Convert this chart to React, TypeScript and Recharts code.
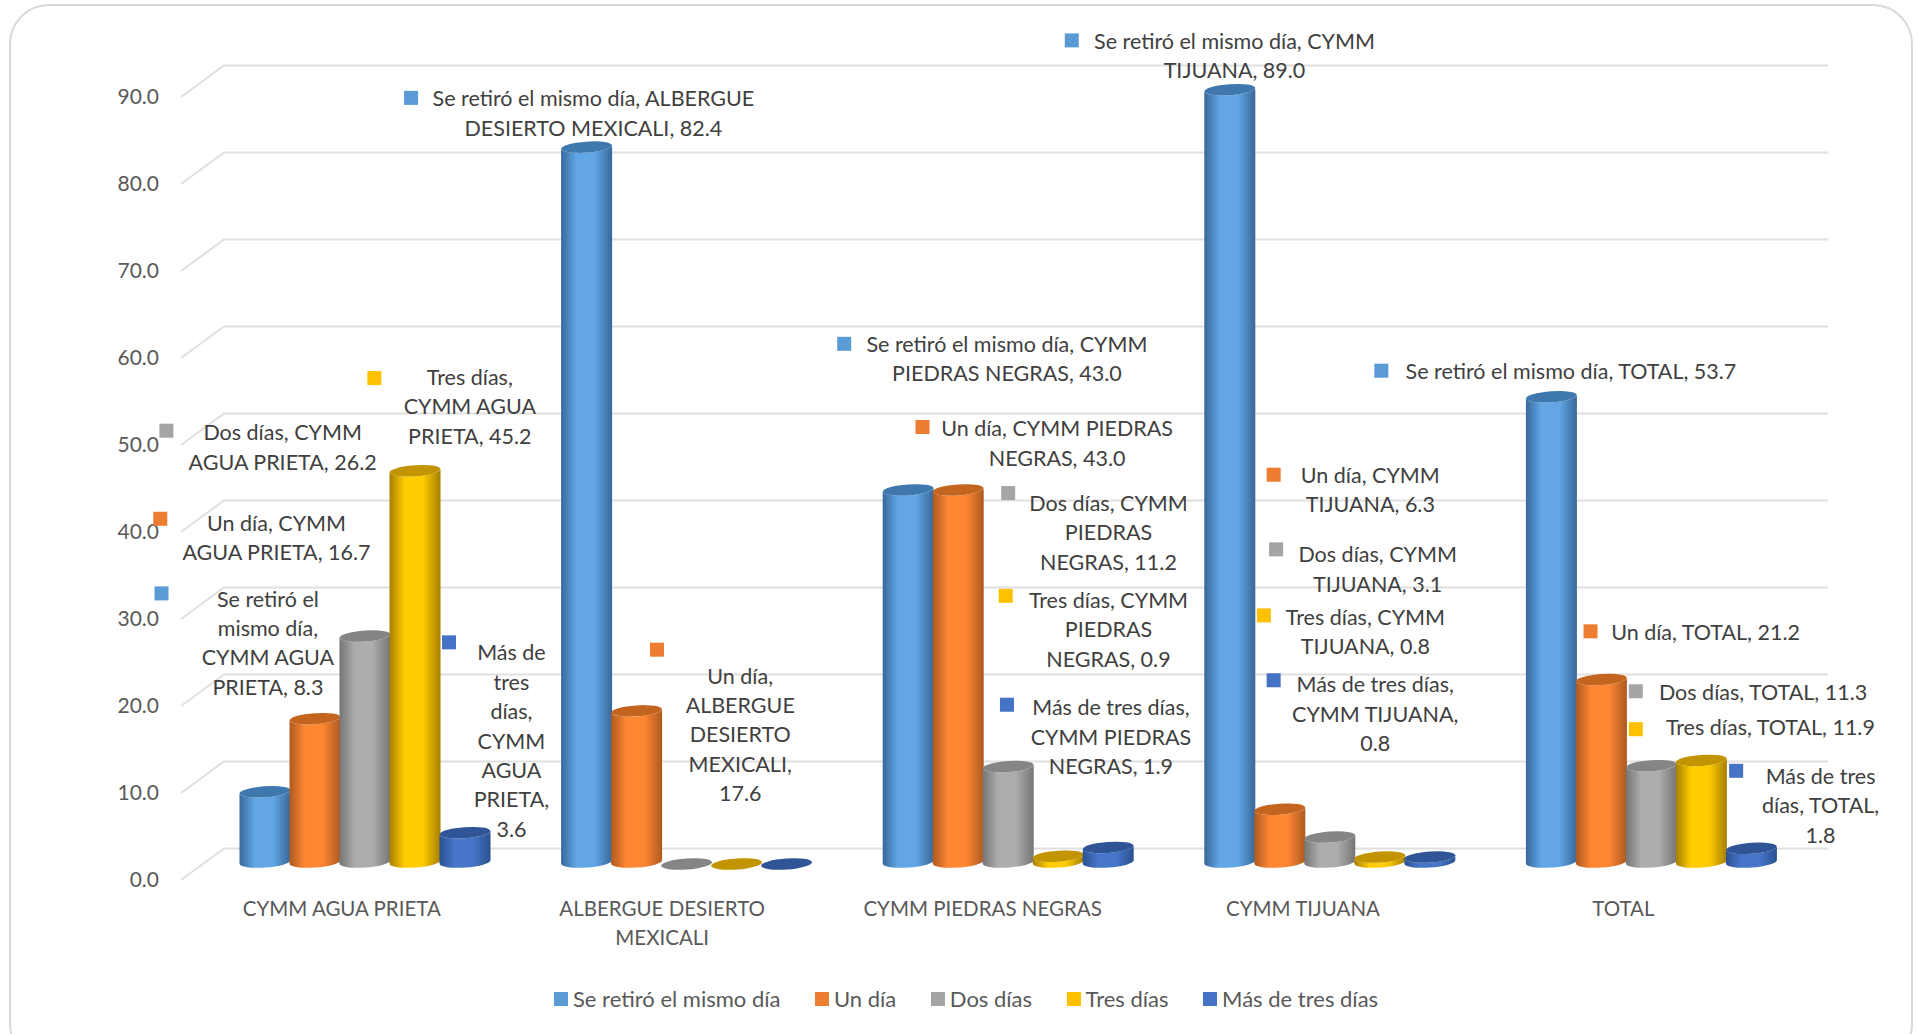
import { FC } from 'react';
import { Bar, BarChart, CartesianGrid, LabelList, Legend, XAxis, YAxis } from 'recharts';

const CATEGORIES = ['CYMM AGUA PRIETA', 'ALBERGUE DESIERTO MEXICALI', 'CYMM PIEDRAS NEGRAS', 'CYMM TIJUANA', 'TOTAL'];
const SERIES_NAMES = ['Se retiró el mismo día', 'Un día', 'Dos días', 'Tres días', 'Más de tres días'];

const MISMO_DIA = [8.3, 82.4, 43.0, 89.0, 53.7];
const UN_DIA = [16.7, 17.6, 43.0, 6.3, 21.2];
const DOS_DIAS = [26.2, 0, 11.2, 3.1, 11.3];
const TRES_DIAS = [45.2, 0, 0.9, 0.8, 11.9];
const MAS_DIAS = [3.6, 0, 1.9, 0.8, 1.8];
const SERIES_VALUES = [MISMO_DIA, UN_DIA, DOS_DIAS, TRES_DIAS, MAS_DIAS];

const Y_TICKS = [0, 10, 20, 30, 40, 50, 60, 70, 80, 90];

const data = CATEGORIES.map((name, i) => {
  const row: Record<string, string | number> = { name };
  SERIES_NAMES.forEach((s, j) => {
    row[s] = SERIES_VALUES[j][i];
  });
  return row;
});

const COLORS = ['#5b9bd5', '#ed7d31', '#a5a5a5', '#ffc000', '#4472c4'];
const SHADES = [
  { edge: '#37689a', mid: '#62a6e6', cap: '#3f78ad' },
  { edge: '#ad5a20', mid: '#ff8633', cap: '#c4651f' },
  { edge: '#757575', mid: '#adadad', cap: '#858585' },
  { edge: '#a67f00', mid: '#ffcc00', cap: '#c29400' },
  { edge: '#2b5190', mid: '#4675ca', cap: '#2f5597' },
];

const FONT = 'Lato';
const TEXT_COLOR = '#404040';
const AXIS_COLOR = '#595959';
const DEPTH_X = 43;
const DEPTH_Y = 31.5;
const K = 1.2235;

// hand-placed data labels, [markerX, markerY, textCenterX, firstLineY, words per line]
type Place = [number, number, number, number, number[]] | null;
const LABEL_PLACES: Place[][] = [
  [
    [132, 485, 219, 490, [3, 2, 2, 2]],
    [336, 80, 485, 81, [6, 3]],
    [690, 281, 823, 282, [6, 3]],
    [876, 33, 1009, 34, [6, 2]],
    [1129, 303, 1284, 304, [7]],
  ],
  [
    [131, 424, 226, 428, [3, 3]],
    [537, 531, 605, 553, [2, 1, 1, 1, 1]],
    [754, 349, 864, 351, [4, 2]],
    [1041, 388, 1120, 389, [3, 2]],
    [1300, 516, 1394, 517, [4]],
  ],
  [
    [136, 352, 231, 354, [3, 3]],
    null,
    [824, 403, 906, 412, [3, 1, 2]],
    [1043, 449, 1126, 454, [3, 2]],
    [1337, 565, 1441, 566, [4]],
  ],
  [
    [306, 309, 384, 309, [2, 2, 2]],
    null,
    [822, 487, 906, 491, [3, 1, 2]],
    [1033, 503, 1116, 505, [3, 2]],
    [1337, 596, 1447, 595, [4]],
  ],
  [
    [367, 525, 418, 534, [2, 1, 1, 1, 1, 1, 1]],
    null,
    [823, 576, 908, 579, [4, 2, 2]],
    [1041, 556, 1124, 560, [4, 2, 1]],
    [1419, 630, 1488, 635, [3, 2, 1]],
  ],
];

const Cylinder: FC<any> = ({ x, y, width, height, series }) => {
  const rx = width / 2 + 0.5;
  const ry = 5.5;
  const tilt = -4;
  const lift = rx * Math.sin((-tilt * Math.PI) / 180);
  const left = x + 22.5;
  const right = left + rx * 2;
  const top = y - 16;
  const bottom = Math.max(top, y + height - 18);
  const cx = left + rx;
  const shade = SHADES[series];
  const body = [
    `M${left},${top + lift}`,
    `L${left},${bottom + lift}`,
    `A${rx},${ry} ${tilt} 0 0 ${right},${bottom - lift}`,
    `L${right},${top - lift}`,
    `A${rx},${ry} ${tilt} 0 1 ${left},${top + lift}`,
    'Z',
  ].join(' ');
  return (
    <g>
      <path d={body} fill={`url(#cyl-${series})`} />
      <ellipse cx={cx} cy={top} rx={rx} ry={ry} fill={shade.cap} transform={`rotate(${tilt} ${cx} ${top})`} />
    </g>
  );
};

const BackGridLine: FC<any> = ({ x1, x2, y1 }) => (
  <path
    d={`M${x1},${y1} L${x1 + DEPTH_X},${y1 - DEPTH_Y} L${x2 + DEPTH_X - 4},${y1 - DEPTH_Y}`}
    fill="none"
    stroke="#e0e0e0"
    strokeWidth={2}
  />
);

const DataLabel: FC<any> = ({ index, value, series }) => {
  const place = LABEL_PLACES[series][index];
  if (!place) return null;
  const [mx, my, cx, cy, counts] = place;
  const words = `${SERIES_NAMES[series]}, ${CATEGORIES[index]}, ${Number(value).toFixed(1)}`.split(' ');
  let at = 0;
  const lines = counts.map((n) => {
    const line = words.slice(at, at + n).join(' ');
    at += n;
    return line;
  });
  return (
    <g>
      <rect x={mx * K - 7} y={my * K - 7} width={14} height={14} fill={COLORS[series]} />
      {lines.map((line, i) => (
        <text
          key={i}
          x={cx * K}
          y={cy * K + i * 29.4 - 1}
          textAnchor="middle"
          dominantBaseline="central"
          fontFamily={FONT}
          fontSize={21.5}
          fill={TEXT_COLOR}
        >
          {line}
        </text>
      ))}
    </g>
  );
};

const CategoryTick: FC<any> = ({ x, y, index, payload }) => {
  const words = String(payload.value).split(' ');
  // only the long label wraps, its last word drops to a second line
  const lines = payload.value.length > 22
    ? [words.slice(0, -1).join(' '), words[words.length - 1]]
    : [payload.value];
  return (
    <text
      x={x - index * 1.2}
      y={y + 15}
      textAnchor="middle"
      fontFamily={FONT}
      fontSize={20.5}
      fill={AXIS_COLOR}
    >
      {lines.map((line: string, i: number) => (
        <tspan key={i} x={x - index * 1.2} dy={i === 0 ? 0 : 29}>
          {line}
        </tspan>
      ))}
    </text>
  );
};

const LegendRow: FC<any> = ({ payload }) => (
  <div style={{ display: 'flex', gap: 34.5, fontFamily: FONT, fontSize: 22, color: AXIS_COLOR }}>
    {(payload || []).map((item: any) => (
      <div key={item.value} style={{ display: 'flex', alignItems: 'center', gap: 5 }}>
        <span style={{ width: 14, height: 14, background: item.color, display: 'inline-block' }} />
        <span>{item.value}</span>
      </div>
    ))}
  </div>
);

const App: FC = () => (
  <div
    style={{
      position: 'fixed',
      left: 0,
      top: 0,
      width: 1918,
      height: 1034,
      overflow: 'hidden',
      background: '#fff',
    }}
  >
    <div
      style={{
        position: 'absolute',
        left: 9,
        top: 4,
        width: 1904,
        height: 1060,
        border: '2px solid #d9d9d9',
        borderRadius: 40,
        boxSizing: 'border-box',
      }}
    />
    <div style={{ position: 'absolute', left: 0, top: 0 }}>
      <BarChart
        width={1918}
        height={1034}
        data={data}
        barGap={0}
        barCategoryGap={36}
        margin={{ top: 97, right: 129, bottom: 94, left: 121 }}
      >
        <defs>
          {SHADES.map((s, i) => (
            <linearGradient key={i} id={`cyl-${i}`} x1="0" y1="0" x2="1" y2="0">
              <stop offset="0%" stopColor={s.edge} />
              <stop offset="30%" stopColor={s.mid} />
              <stop offset="65%" stopColor={s.mid} />
              <stop offset="100%" stopColor={s.edge} />
            </linearGradient>
          ))}
        </defs>
        <CartesianGrid vertical={false} horizontal={(p: any) => <BackGridLine key={p.key ?? p.index} {...p} />} />
        <XAxis
          dataKey="name"
          height={60}
          interval={0}
          axisLine={false}
          tickLine={false}
          tickSize={0}
          tickMargin={21}
          tick={<CategoryTick />}
        />
        <YAxis
          width={60}
          domain={[0, 90]}
          ticks={Y_TICKS}
          axisLine={false}
          tickLine={false}
          tickSize={0}
          tickMargin={22}
          tickFormatter={(v: number) => v.toFixed(1)}
          tick={{ fontFamily: FONT, fontSize: 21, fill: AXIS_COLOR }}
        />
        <Legend
          verticalAlign="middle"
          itemSorter={null}
          content={<LegendRow />}
          wrapperStyle={{ left: 554, top: 985, width: 'auto' }}
        />
        {SERIES_NAMES.map((s, i) => (
          <Bar
            key={s}
            dataKey={s}
            fill={COLORS[i]}
            isAnimationActive={false}
            shape={(p: any) => <Cylinder {...p} series={i} />}
          >
            <LabelList dataKey={s} content={(p: any) => <DataLabel {...p} series={i} />} />
          </Bar>
        ))}
      </BarChart>
    </div>
  </div>
);

export default App;
